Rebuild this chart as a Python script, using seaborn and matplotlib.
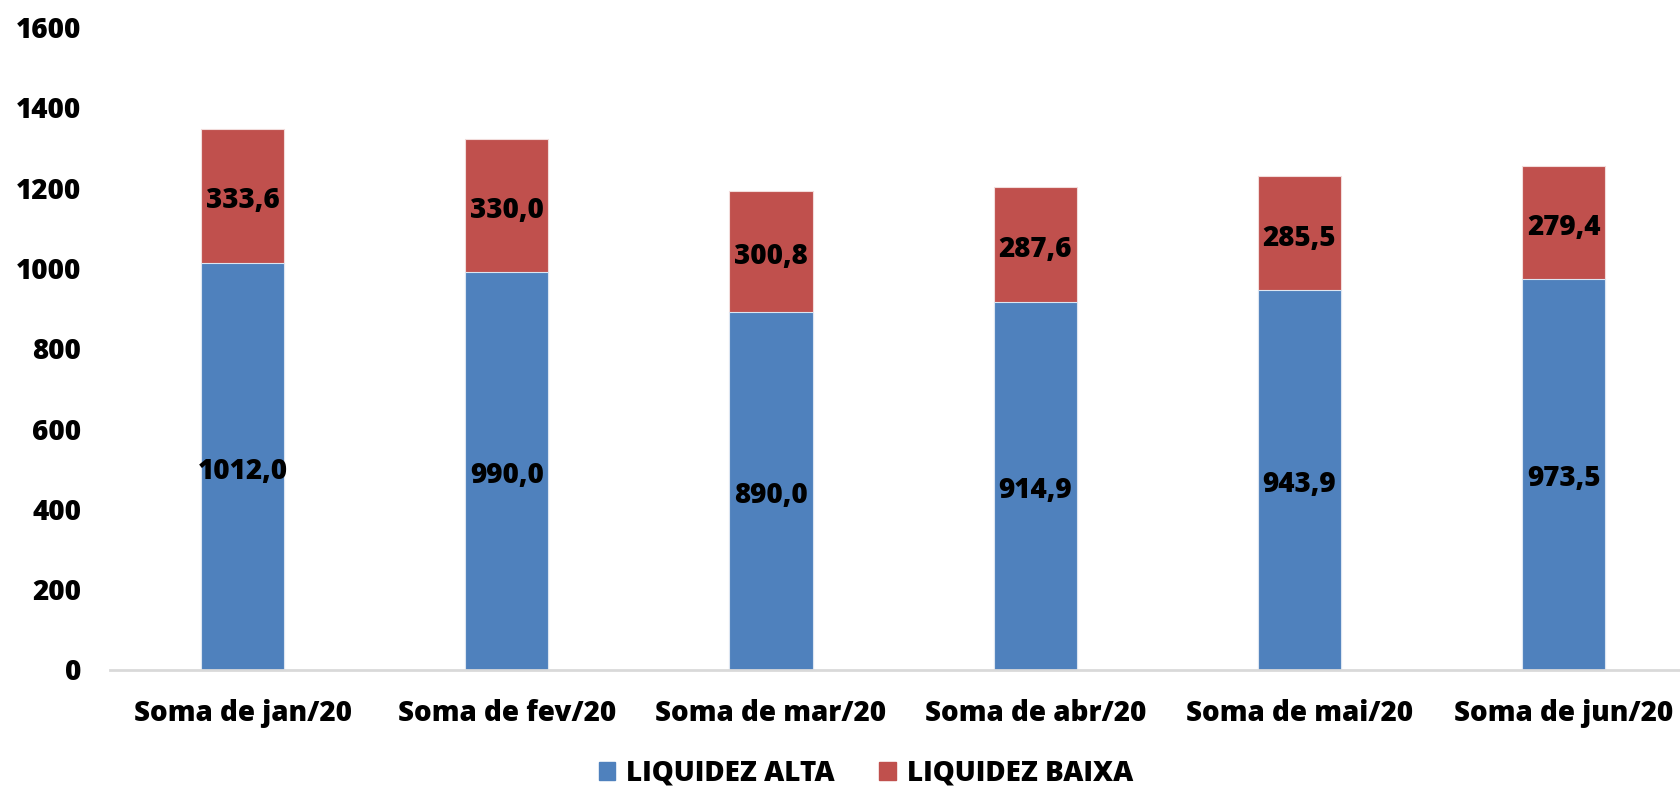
import seaborn as sns
import pandas as pd
import matplotlib.pyplot as plt
from matplotlib.patches import Patch

meses = ["Soma de jan/20", "Soma de fev/20", "Soma de mar/20",
         "Soma de abr/20", "Soma de mai/20", "Soma de jun/20"]
liquidez_alta = [1012.0, 990.0, 890.0, 914.9, 943.9, 973.5]
liquidez_baixa = [333.6, 330.0, 300.8, 287.6, 285.5, 279.4]

cor_alta = "#4F81BD"
cor_baixa = "#C0504D"

sns.set_theme(style="white")
plt.rcParams["font.family"] = ["Open Sans", "DejaVu Sans"]
peso = 800

df = pd.DataFrame({"mes": meses, "alta": liquidez_alta, "baixa": liquidez_baixa})
df["total"] = df["alta"] + df["baixa"]

fig = plt.figure(figsize=(16.8, 7.87), dpi=100)
ax = fig.add_axes([110.4 / 1680, 1 - 669.5 / 787, 1 - 110.4 / 1680, (669.5 - 27) / 787])

largura = 0.315
# total first, then blue on top -> stacked look
sns.barplot(data=df, x="mes", y="total", color=cor_baixa, saturation=1,
            width=largura, edgecolor="#F2DCDB", linewidth=0.8, ax=ax)
sns.barplot(data=df, x="mes", y="alta", color=cor_alta, saturation=1,
            width=largura, edgecolor="#DCE6F2", linewidth=0.8, ax=ax)

def rotulo(x, y, valor):
    ax.annotate(f"{valor:.1f}".replace(".", ","), (x, y), xytext=(0, -3.5),
                textcoords="offset points", ha="center", va="center",
                fontsize=20, fontweight=peso, color="black")

for i, row in df.iterrows():
    rotulo(i, row["alta"] / 2, row["alta"])
    rotulo(i, row["alta"] + row["baixa"] / 2, row["baixa"])

ax.set_xlim(-0.5, 5.44)
ax.set_ylim(0, 1600)
ax.set_yticks(range(0, 1601, 200))
ax.set_xlabel("")
ax.set_ylabel("")
ax.tick_params(axis="y", labelsize=20, length=0, pad=21)
ax.tick_params(axis="x", labelsize=20, length=0, pad=21)
for lbl in ax.get_xticklabels() + ax.get_yticklabels():
    lbl.set_fontweight(peso)
    lbl.set_color("black")

for s in ["top", "right", "left"]:
    ax.spines[s].set_visible(False)
ax.spines["bottom"].set_color("#D9D9D9")
ax.spines["bottom"].set_linewidth(2)

handles = [Patch(color=cor_alta, label="LIQUIDEZ ALTA"),
           Patch(color=cor_baixa, label="LIQUIDEZ BAIXA")]
leg = fig.legend(handles=handles, loc="center", bbox_to_anchor=(866 / 1680, 1 - 773 / 787),
                 ncol=2, frameon=False, prop={"size": 20, "weight": peso},
                 handlelength=0.6, handleheight=0.6, handletextpad=0.4, columnspacing=1.6)
for t in leg.get_texts():
    t.set_color("black")

fig.savefig("out.png", dpi=100)
